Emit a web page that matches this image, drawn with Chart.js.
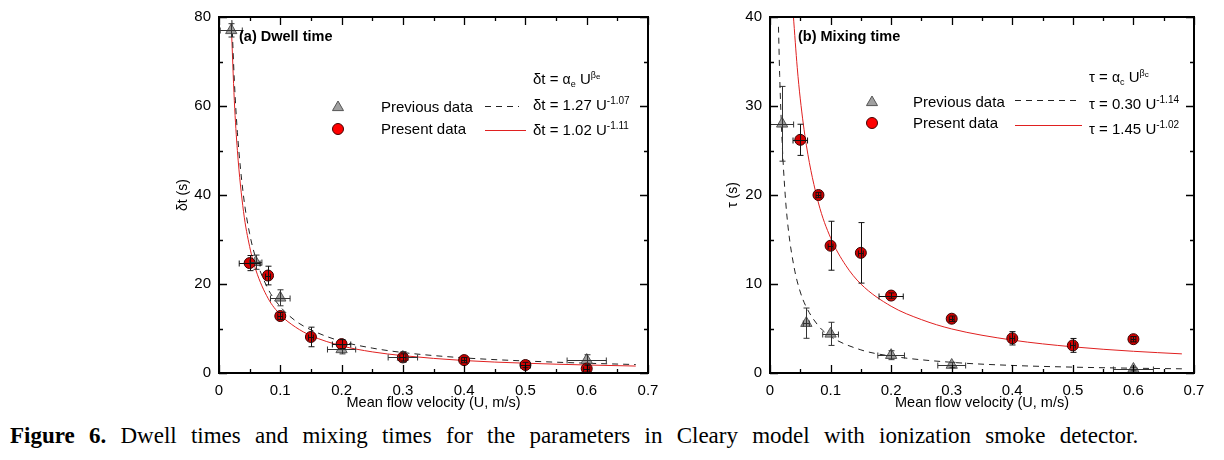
<!DOCTYPE html>
<html>
<head>
<meta charset="utf-8">
<script src="https://cdn.jsdelivr.net/npm/chart.js@4.4.1/dist/chart.umd.min.js"></script>
<style>
  body { margin: 0; background: #fff; width: 1224px; height: 460px; overflow: hidden; position: relative; }
  #left { position: absolute; left: 0; top: 0; }
  #right { position: absolute; left: 690px; top: 0; }
  #caption {
    position: absolute; left: 10px; top: 423px;
    font-family: "Liberation Serif", "Times New Roman", serif;
    font-size: 23px; word-spacing: 8.5px; white-space: nowrap; color: #000;
  }
</style>
</head>
<body>
<canvas id="left" width="690" height="420"></canvas>
<canvas id="right" width="534" height="420"></canvas>
<div id="caption"><b>Figure 6.</b> Dwell times and mixing times for the parameters in Cleary model with ionization smoke detector.</div>
<script>
// ---- (a) dwell time ----
const dwellPrevX = [0.02, 0.06, 0.1, 0.2, 0.3, 0.6];
const dwellPrevY = [77.0, 24.9, 16.9, 5.3, 3.6, 2.9];
const dwellPrevYErr = [1.5, 1.6, 1.8, 1.0, 1.2, 1.2];
const dwellPrevXErr = [0.018, 0.01, 0.016, 0.023, 0.024, 0.032];

const dwellPresX = [0.05, 0.08, 0.1, 0.15, 0.2, 0.3, 0.4, 0.5, 0.6];
const dwellPresY = [24.7, 21.9, 12.8, 8.1, 6.5, 3.5, 2.9, 1.8, 1.0];
const dwellPresYErr = [1.7, 2.1, 0.8, 2.2, 1.0, 0.8, 0.6, 0.6, 0.8];
const dwellPresXErr = [0.017, 0.004, 0.004, 0.004, 0.015, 0.005, 0.004, 0.008, 0.005];

// fitted curves
const dwellPrevFitX = [0.021, 0.025, 0.03, 0.04, 0.05, 0.06, 0.08, 0.1, 0.125, 0.15, 0.2, 0.25, 0.3, 0.4, 0.5, 0.6, 0.68];
const dwellPrevFitY = [79.3, 65.8, 54.1, 39.8, 31.3, 25.8, 18.9, 14.9, 11.7, 9.7, 7.1, 5.6, 4.6, 3.4, 2.7, 2.2, 1.9];
const dwellPresFitX = [0.02, 0.025, 0.03, 0.04, 0.05, 0.06, 0.08, 0.1, 0.125, 0.15, 0.2, 0.25, 0.3, 0.4, 0.5, 0.6, 0.68];
const dwellPresFitY = [78.4, 61.2, 50.0, 36.3, 28.4, 23.2, 16.8, 13.1, 10.3, 8.4, 6.1, 4.75, 3.9, 2.8, 2.2, 1.8, 1.56];

// ---- (b) mixing time ----
const mixPrevX = [0.02, 0.06, 0.1, 0.2, 0.3, 0.6];
const mixPrevY = [28.0, 5.6, 4.4, 2.0, 0.9, 0.45];
const mixPrevYErr = [4.2, 1.7, 1.3, 0.5, 0.3, 0.2];
const mixPrevXErr = [0.019, 0.005, 0.013, 0.022, 0.023, 0.033];

const mixPresX = [0.05, 0.08, 0.1, 0.15, 0.2, 0.3, 0.4, 0.5, 0.6];
const mixPresY = [26.2, 20.0, 14.3, 13.5, 8.7, 6.1, 3.9, 3.1, 3.8];
const mixPresYErr = [1.75, 0.3, 2.75, 3.4, 0.3, 0.3, 0.75, 0.78, 0.3];
const mixPresXErr = [0.012, 0.004, 0.004, 0.004, 0.02, 0.004, 0.004, 0.004, 0.004];

const mixPrevFitX = [0.014, 0.016, 0.02, 0.025, 0.03, 0.04, 0.05, 0.06, 0.08, 0.1, 0.15, 0.2, 0.3, 0.4, 0.5, 0.6, 0.68];
const mixPrevFitY = [38.9, 33.4, 26.0, 20.1, 16.3, 11.8, 9.1, 7.4, 5.3, 4.1, 2.6, 1.9, 1.2, 0.85, 0.66, 0.54, 0.47];
const mixPresFitX = [0.0385, 0.045, 0.05, 0.06, 0.08, 0.1, 0.125, 0.15, 0.2, 0.25, 0.3, 0.4, 0.5, 0.6, 0.68];
const mixPresFitY = [40.2, 34.3, 30.8, 25.6, 19.1, 15.2, 12.1, 10.0, 7.5, 6.0, 4.95, 3.7, 2.94, 2.44, 2.15];

const xTickLabels = ['0', '0.1', '0.2', '0.3', '0.4', '0.5', '0.6', '0.7'];
const legendLabels = ['Previous data', 'Present data'];

const SANS = '"Liberation Sans", Arial, sans-serif';
const pts = (xs, ys) => xs.map((x, i) => ({ x: x, y: ys[i] }));

function drawRuns(ctx, x, y, runs, bold) {
  runs.forEach(r => {
    ctx.font = (bold ? 'bold ' : '') + r[1] + 'px ' + SANS;
    ctx.fillText(r[0], x, y + (r[2] || 0));
    x += ctx.measureText(r[0]).width;
  });
}

function drawTriangle(ctx, x, y, r) {
  ctx.beginPath();
  ctx.moveTo(x, y - r);
  ctx.lineTo(x + r * 0.92, y + r * 0.6);
  ctx.lineTo(x - r * 0.92, y + r * 0.6);
  ctx.closePath();
  ctx.fillStyle = '#a0a0a0';
  ctx.strokeStyle = '#555';
  ctx.lineWidth = 1;
  ctx.fill(); ctx.stroke();
}

function drawCircle(ctx, x, y, r, fill) {
  ctx.beginPath();
  ctx.arc(x, y, r, 0, Math.PI * 2);
  ctx.fillStyle = fill;
  ctx.strokeStyle = '#400';
  ctx.lineWidth = 1;
  ctx.fill(); ctx.stroke();
}

// frame + inward ticks on all four sides
const framePlugin = {
  id: 'frame',
  afterDraw(chart) {
    const { ctx, chartArea: a, scales: { x, y } } = chart;
    const marks = (scale) => {
      const v = scale.ticks.map(t => t.value);
      const out = [];
      v.forEach((t, i) => {
        out.push([t, 8]);
        if (i < v.length - 1) out.push([(t + v[i + 1]) / 2, 4]);
      });
      return out;
    };
    ctx.save();
    ctx.strokeStyle = '#000';
    ctx.lineWidth = 1.3;
    ctx.beginPath();
    marks(x).forEach(([v, len]) => {
      const px = Math.round(x.getPixelForValue(v)) + 0.5;
      ctx.moveTo(px, a.bottom); ctx.lineTo(px, a.bottom - len);
      ctx.moveTo(px, a.top); ctx.lineTo(px, a.top + len);
    });
    marks(y).forEach(([v, len]) => {
      const py = Math.round(y.getPixelForValue(v)) + 0.5;
      ctx.moveTo(a.left, py); ctx.lineTo(a.left + len, py);
      ctx.moveTo(a.right, py); ctx.lineTo(a.right - len, py);
    });
    ctx.stroke();
    ctx.lineWidth = 2;
    ctx.strokeRect(a.left, a.top, a.right - a.left, a.bottom - a.top);
    ctx.restore();
  }
};

function errorBarPlugin(series) {
  return {
    id: 'errbars',
    afterDatasetsDraw(chart) {
      const { ctx, scales: { x: sx, y: sy } } = chart;
      ctx.save();
      ctx.lineWidth = 1;
      series.forEach(s => {
        ctx.strokeStyle = s.color;
        ctx.beginPath();
        s.x.forEach((xv, i) => {
          const px = Math.round(sx.getPixelForValue(xv)) + 0.5;
          const py = Math.round(sy.getPixelForValue(s.y[i])) + 0.5;
          const y1 = sy.getPixelForValue(s.y[i] + s.yErr[i]);
          const y2 = sy.getPixelForValue(Math.max(0, s.y[i] - s.yErr[i]));
          const x1 = sx.getPixelForValue(xv - s.xErr[i]);
          const x2 = sx.getPixelForValue(xv + s.xErr[i]);
          ctx.moveTo(px, y1); ctx.lineTo(px, y2);
          ctx.moveTo(px - 3, y1); ctx.lineTo(px + 3, y1);
          ctx.moveTo(px - 3, y2); ctx.lineTo(px + 3, y2);
          ctx.moveTo(x1, py); ctx.lineTo(x2, py);
          ctx.moveTo(x1, py - 3); ctx.lineTo(x1, py + 3);
          ctx.moveTo(x2, py - 3); ctx.lineTo(x2, py + 3);
        });
        ctx.stroke();
      });
      ctx.restore();
    }
  };
}

// hand-drawn legend / annotation block
function legendPlugin(L) {
  return {
    id: 'figlegend',
    afterDraw(chart) {
      const { ctx, chartArea: a } = chart;
      const X = a.left, Y = a.top;
      ctx.save();
      ctx.fillStyle = '#000';
      ctx.textBaseline = 'alphabetic';
      drawRuns(ctx, X + L.title[0], Y + L.title[1], [[L.title[2], 14.5]], true);

      drawTriangle(ctx, X + L.mark[0], Y + L.mark[1], 6);
      drawCircle(ctx, X + L.mark[0], Y + L.mark[2], 5.5, '#ff0000');
      ctx.fillStyle = '#000';
      drawRuns(ctx, X + L.text[0], Y + L.text[1], [[legendLabels[0], 15]]);
      drawRuns(ctx, X + L.text[0], Y + L.text[2], [[legendLabels[1], 15]]);

      ctx.lineWidth = 1;
      ctx.strokeStyle = '#222';
      ctx.setLineDash([6, 5]);
      ctx.beginPath();
      ctx.moveTo(X + L.dash[0], Y + L.dash[2] + 0.5); ctx.lineTo(X + L.dash[1], Y + L.dash[2] + 0.5);
      ctx.stroke();
      ctx.setLineDash([]);
      ctx.strokeStyle = '#e02020';
      ctx.beginPath();
      ctx.moveTo(X + L.red[0], Y + L.red[2] + 0.5); ctx.lineTo(X + L.red[1], Y + L.red[2] + 0.5);
      ctx.stroke();

      ctx.fillStyle = '#000';
      L.formulas.forEach((runs, i) => drawRuns(ctx, X + L.fx, Y + L.fy[i], runs));
      ctx.restore();
    }
  };
}

function makePanel(id, o) {
  new Chart(document.getElementById(id), {
    type: 'scatter',
    data: {
      datasets: [
        {
          label: legendLabels[1], data: pts(o.presX, o.presY),
          pointStyle: 'circle', pointRadius: 5.5,
          backgroundColor: '#d40000', borderColor: '#3a0000', borderWidth: 1
        },
        {
          label: legendLabels[0], data: pts(o.prevX, o.prevY),
          pointStyle: 'triangle', pointRadius: 6.5,
          backgroundColor: '#9c9c9c', borderColor: '#555', borderWidth: 1
        },
        {
          label: 'fit previous', data: pts(o.prevFitX, o.prevFitY),
          showLine: true, pointRadius: 0, borderColor: '#222', borderWidth: 1,
          borderDash: [6, 5], cubicInterpolationMode: 'monotone'
        },
        {
          label: 'fit present', data: pts(o.presFitX, o.presFitY),
          showLine: true, pointRadius: 0, borderColor: '#e02020', borderWidth: 1,
          cubicInterpolationMode: 'monotone'
        }
      ]
    },
    options: {
      responsive: false,
      animation: false,
      devicePixelRatio: 1,
      layout: { padding: o.padding },
      plugins: { legend: { display: false }, tooltip: { enabled: false } },
      scales: {
        x: {
          type: 'linear', min: 0, max: 0.7,
          afterFit: s => { s.height = 39; },
          grid: { display: false, drawTicks: false },
          border: { display: false },
          ticks: {
            stepSize: 0.1, padding: 9, color: '#000', maxRotation: 0,
            font: { family: SANS, size: 15 },
            callback: (v) => xTickLabels[Math.round(v * 10)]
          },
          title: {
            display: true, text: 'Mean flow velocity (U, m/s)', color: '#000',
            font: { family: SANS, size: 14.5 }, padding: { top: 0, bottom: 0 }
          }
        },
        y: {
          type: 'linear', min: 0, max: o.yMax,
          afterFit: s => { s.width = o.yWidth; },
          grid: { display: false, drawTicks: false },
          border: { display: false },
          ticks: {
            stepSize: o.yStep, padding: 8, color: '#000',
            font: { family: SANS, size: 15 }
          },
          title: {
            display: true, text: o.yTitle, color: '#000',
            font: { family: SANS, size: 14 }, padding: { top: 0, bottom: 0 }
          }
        }
      }
    },
    plugins: [
      framePlugin,
      errorBarPlugin([
        { x: o.prevX, y: o.prevY, xErr: o.prevXErr, yErr: o.prevYErr, color: '#333' },
        { x: o.presX, y: o.presY, xErr: o.presXErr, yErr: o.presYErr, color: '#111' }
      ]),
      legendPlugin(o.legend)
    ]
  });
}

makePanel('left', {
  prevX: dwellPrevX, prevY: dwellPrevY, prevXErr: dwellPrevXErr, prevYErr: dwellPrevYErr,
  presX: dwellPresX, presY: dwellPresY, presXErr: dwellPresXErr, presYErr: dwellPresYErr,
  prevFitX: dwellPrevFitX, prevFitY: dwellPrevFitY, presFitX: dwellPresFitX, presFitY: dwellPresFitY,
  yMax: 80, yStep: 20, yTitle: 'δt (s)', yWidth: 44,
  padding: { left: 175, right: 42, top: 15, bottom: 8 },
  legend: {
    title: [20, 24, '(a) Dwell time'],
    mark: [119, 90, 112],
    text: [162, 95, 117],
    dash: [266, 300, 89],
    red: [266, 307, 113],
    fx: 314, fy: [67, 93, 118],
    formulas: [
      [['δt = ', 15], ['α', 14], ['e', 9, 3], [' U', 15], ['β', 9, -6], ['e', 8, -5]],
      [['δt = 1.27 U', 15], ['-1.07', 10, -6]],
      [['δt = 1.02 U', 15], ['-1.11', 10, -6]]
    ]
  }
});

makePanel('right', {
  prevX: mixPrevX, prevY: mixPrevY, prevXErr: mixPrevXErr, prevYErr: mixPrevYErr,
  presX: mixPresX, presY: mixPresY, presXErr: mixPresXErr, presYErr: mixPresYErr,
  prevFitX: mixPrevFitX, prevFitY: mixPrevFitY, presFitX: mixPresFitX, presFitY: mixPresFitY,
  yMax: 40, yStep: 10, yTitle: 'τ (s)', yWidth: 45,
  padding: { left: 35, right: 30, top: 15, bottom: 8 },
  legend: {
    title: [28, 24, '(b) Mixing time'],
    mark: [102, 85, 106],
    text: [143, 90, 111],
    dash: [245, 308, 83],
    red: [245, 312, 108],
    fx: 319, fy: [65, 92, 117],
    formulas: [
      [['τ = ', 15], ['α', 14], ['c', 9, 3], [' U', 15], ['β', 9, -6], ['c', 8, -5]],
      [['τ = 0.30 U', 15], ['-1.14', 10, -6]],
      [['τ = 1.45 U', 15], ['-1.02', 10, -6]]
    ]
  }
});
</script>
</body>
</html>
